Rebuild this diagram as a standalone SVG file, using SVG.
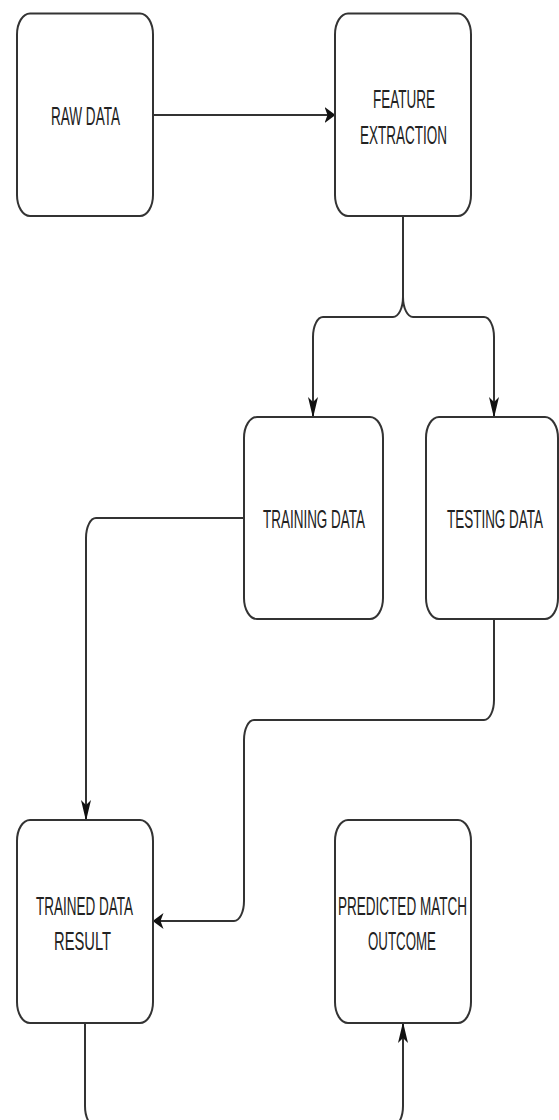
<svg xmlns="http://www.w3.org/2000/svg" width="559" height="1120" viewBox="0 0 559 1120">
<style>
.box{fill:#ffffff;stroke:#333333;stroke-width:2}
.lbl{font-family:"Liberation Sans",Arial,sans-serif;font-size:13px;fill:#222222}
.edge{fill:none;stroke:#333333;stroke-width:2}
.ev{marker-end:url(#arrV)}
.eh{marker-end:url(#arrH)}
</style>
<defs>
<marker id="arrV" markerUnits="userSpaceOnUse" viewBox="0 0 21 10" markerWidth="21" markerHeight="10" refX="20" refY="5" orient="auto">
<path d="M0,0 L21,5 L0,10 L5,5 Z" fill="#111111"/>
</marker>
<marker id="arrH" markerUnits="userSpaceOnUse" viewBox="0 0 11 16" markerWidth="11" markerHeight="16" refX="10.5" refY="8" orient="auto">
<path d="M0,0 L11,8 L0,16 L3,8 Z" fill="#111111"/>
</marker>
</defs>
<rect width="559" height="1120" fill="#ffffff"/>
<g id="connectors">
<path class="edge eh" d="M153,115 H335"/>
<path class="edge ev" d="M403,216 V297 A10 20 0 0 1 393,317 H323 A10 20 0 0 0 313,337 V417"/>
<path class="edge ev" d="M403,216 V297 A10 20 0 0 0 413,317 H484 A10 20 0 0 1 494,337 V417"/>
<path class="edge ev" d="M244,518 H96 A10 20 0 0 0 86,538 V820"/>
<path class="edge eh" d="M494,619 V700 A10 20 0 0 1 484,720 H254 A10 20 0 0 0 244,740 V901 A10 20 0 0 1 234,921 H153"/>
<path class="edge ev" d="M85,1023 V1106 A10 20 0 0 0 95,1126 H393 A10 20 0 0 0 403,1106 V1023"/>
</g>
<g id="raw-data">
<rect class="box" x="17" y="13.5" width="136" height="202.5" rx="13" ry="21"/>
<text class="lbl" transform="matrix(1,0,0,2,51,125)" textLength="69" lengthAdjust="spacingAndGlyphs">RAW DATA</text>
</g>
<g id="feature-extraction">
<rect class="box" x="335" y="13.5" width="136" height="202.5" rx="13" ry="21"/>
<text class="lbl" transform="matrix(1,0,0,2,373,108)" textLength="62" lengthAdjust="spacingAndGlyphs">FEATURE</text>
<text class="lbl" transform="matrix(1,0,0,2,360,143.5)" textLength="87" lengthAdjust="spacingAndGlyphs">EXTRACTION</text>
</g>
<g id="training-data">
<rect class="box" x="244" y="417" width="139" height="202" rx="13" ry="21"/>
<text class="lbl" transform="matrix(1,0,0,2,263,528)" textLength="102" lengthAdjust="spacingAndGlyphs">TRAINING DATA</text>
</g>
<g id="testing-data">
<rect class="box" x="426" y="417" width="132" height="202" rx="13" ry="21"/>
<text class="lbl" transform="matrix(1,0,0,2,447,528)" textLength="96" lengthAdjust="spacingAndGlyphs">TESTING DATA</text>
</g>
<g id="trained-data-result">
<rect class="box" x="17" y="820" width="136" height="203" rx="13" ry="21"/>
<text class="lbl" transform="matrix(1,0,0,2,36,915)" textLength="97" lengthAdjust="spacingAndGlyphs">TRAINED DATA</text>
<text class="lbl" transform="matrix(1,0,0,2,54,950)" textLength="57" lengthAdjust="spacingAndGlyphs">RESULT</text>
</g>
<g id="predicted-match-outcome">
<rect class="box" x="335" y="820" width="136" height="203" rx="13" ry="21"/>
<text class="lbl" transform="matrix(1,0,0,2,338,915)" textLength="129" lengthAdjust="spacingAndGlyphs">PREDICTED MATCH</text>
<text class="lbl" transform="matrix(1,0,0,2,368,950)" textLength="68" lengthAdjust="spacingAndGlyphs">OUTCOME</text>
</g>
</svg>
